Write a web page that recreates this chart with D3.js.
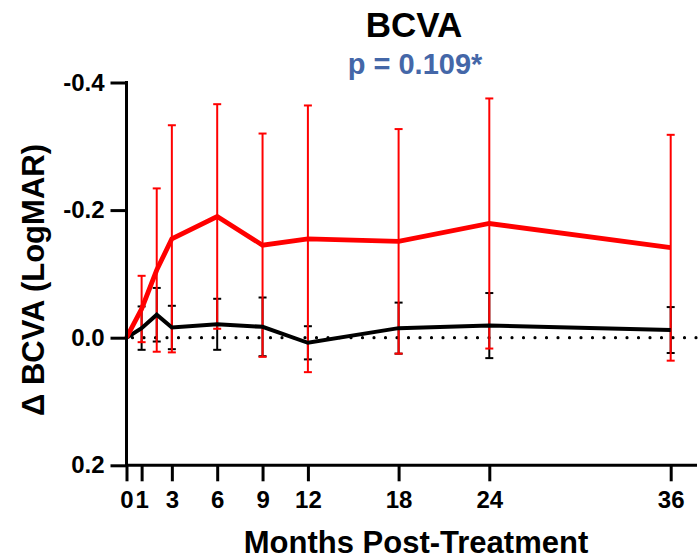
<!DOCTYPE html>
<html>
<head>
<meta charset="utf-8">
<script src="https://cdn.jsdelivr.net/npm/d3@7"></script>
<style>
  html, body { margin: 0; padding: 0; background: #fff; }
  svg { display: block; }
  text { font-family: "Liberation Sans", Arial, sans-serif; font-weight: bold; }
</style>
</head>
<body>
<svg id="chart" width="698" height="559"></svg>
<script>
// ---- data ----
const months = [0, 1, 2, 3, 6, 9, 12, 18, 24, 36];
const redMean = [0, -0.045, -0.106, -0.155, -0.190, -0.145, -0.155, -0.151, -0.179, -0.141];
const redErr  = [0, 0.052, 0.128, 0.178, 0.176, 0.175, 0.209, 0.176, 0.196, 0.177];
const blackMean = [0, -0.015, -0.036, -0.016, -0.021, -0.017, 0.008, -0.015, -0.019, -0.012];
const blackErr  = [0, 0.034, 0.042, 0.034, 0.040, 0.046, 0.026, 0.040, 0.051, 0.036];
const xTicks = [0, 1, 3, 6, 9, 12, 18, 24, 36];
const yTicks = [-0.4, -0.2, 0.0, 0.2];
const titleText = "BCVA";
const subtitleText = "p = 0.109*";
const xLabel = "Months Post-Treatment";
const yLabel = "\u0394 BCVA (LogMAR)";

// ---- layout ----
const svg = d3.select("#chart");
const mLeft = 126.5, mRight = 697, mTop = 82.5, mBottom = 465.3;
const x = d3.scaleLinear().domain([0, 37.74]).range([mLeft, mRight]);
const y = d3.scaleLinear().domain([-0.4, 0.2]).range([mTop, mBottom]);

// zero reference dotted line
svg.append("line")
  .attr("x1", x(0) + 6).attr("x2", mRight)
  .attr("y1", y(0)).attr("y2", y(0))
  .attr("stroke", "#000").attr("stroke-width", 3.2)
  .attr("stroke-linecap", "round")
  .attr("stroke-dasharray", "0 11.5");

function series(mean, err, color, barW, capW) {
  const data = months.map((m, i) => ({ m, v: mean[i], e: err[i] }));
  const g = svg.append("g");
  const bars = data.filter(d => d.e > 0);
  g.selectAll("line.bar").data(bars).enter().append("line")
    .attr("x1", d => x(d.m)).attr("x2", d => x(d.m))
    .attr("y1", d => y(d.v - d.e)).attr("y2", d => y(d.v + d.e))
    .attr("stroke", color).attr("stroke-width", barW);
  [-1, 1].forEach(s => {
    g.selectAll("line.cap" + (s > 0 ? "p" : "n")).data(bars).enter().append("line")
      .attr("x1", d => x(d.m) - capW / 2).attr("x2", d => x(d.m) + capW / 2)
      .attr("y1", d => y(d.v + s * d.e)).attr("y2", d => y(d.v + s * d.e))
      .attr("stroke", color).attr("stroke-width", barW);
  });
  return data;
}
function drawLine(data, color, lineW) {
  svg.append("path").datum(data)
    .attr("fill", "none").attr("stroke", color).attr("stroke-width", lineW)
    .attr("stroke-linejoin", "miter")
    .attr("d", d3.line().x(d => x(d.m)).y(d => y(d.v)));
}

const blkData = series(blackMean, blackErr, "#000", 2, 8);
const redData = series(redMean, redErr, "#ff0000", 2, 8);
drawLine(blkData, "#000", 4);
drawLine(redData, "#ff0000", 4.8);

// ---- axes ----
const yAxis = svg.append("g")
  .attr("transform", `translate(${mLeft},0)`)
  .call(d3.axisLeft(y).tickValues(yTicks).tickSizeOuter(0).tickSize(16).tickPadding(6));
const xAxis = svg.append("g")
  .attr("transform", `translate(0,${mBottom})`)
  .call(d3.axisBottom(x).tickValues(xTicks).tickSizeOuter(0).tickSize(16).tickPadding(10)
        .tickFormat(d3.format("d")));
[yAxis, xAxis].forEach(a => {
  a.select(".domain").attr("stroke", "#000").attr("stroke-width", 3);
  a.selectAll(".tick line").attr("stroke", "#000").attr("stroke-width", 3);
  a.selectAll(".tick text").attr("fill", "#000")
    .style("font-size", "24px").style("font-weight", "bold")
    .style("font-family", '"Liberation Sans", Arial, sans-serif');
});
yAxis.selectAll(".tick text").text(d => d3.format(".1f")(Math.abs(d) < 1e-9 ? 0 : d).replace("\u2212", "-"));
yAxis.select(".domain").attr("d", `M0,${mTop - 1.5}V${mBottom + 1.5}`);
xAxis.select(".domain").attr("d", `M${mLeft - 1.5},0H${mRight}`);

// ---- titles ----
svg.append("text").attr("x", 414).attr("y", 37).attr("text-anchor", "middle")
  .style("font-size", "35px").attr("fill", "#000").text(titleText);
svg.append("text").attr("x", 415).attr("y", 74).attr("text-anchor", "middle")
  .style("font-size", "29px").attr("fill", "#4467a8").text(subtitleText);
svg.append("text").attr("x", 416).attr("y", 553).attr("text-anchor", "middle")
  .style("font-size", "31px").attr("fill", "#000").text(xLabel);
svg.append("text").attr("transform", "translate(44,280) rotate(-90)")
  .attr("text-anchor", "middle")
  .style("font-size", "31px").attr("fill", "#000").text(yLabel);
</script>
</body>
</html>
